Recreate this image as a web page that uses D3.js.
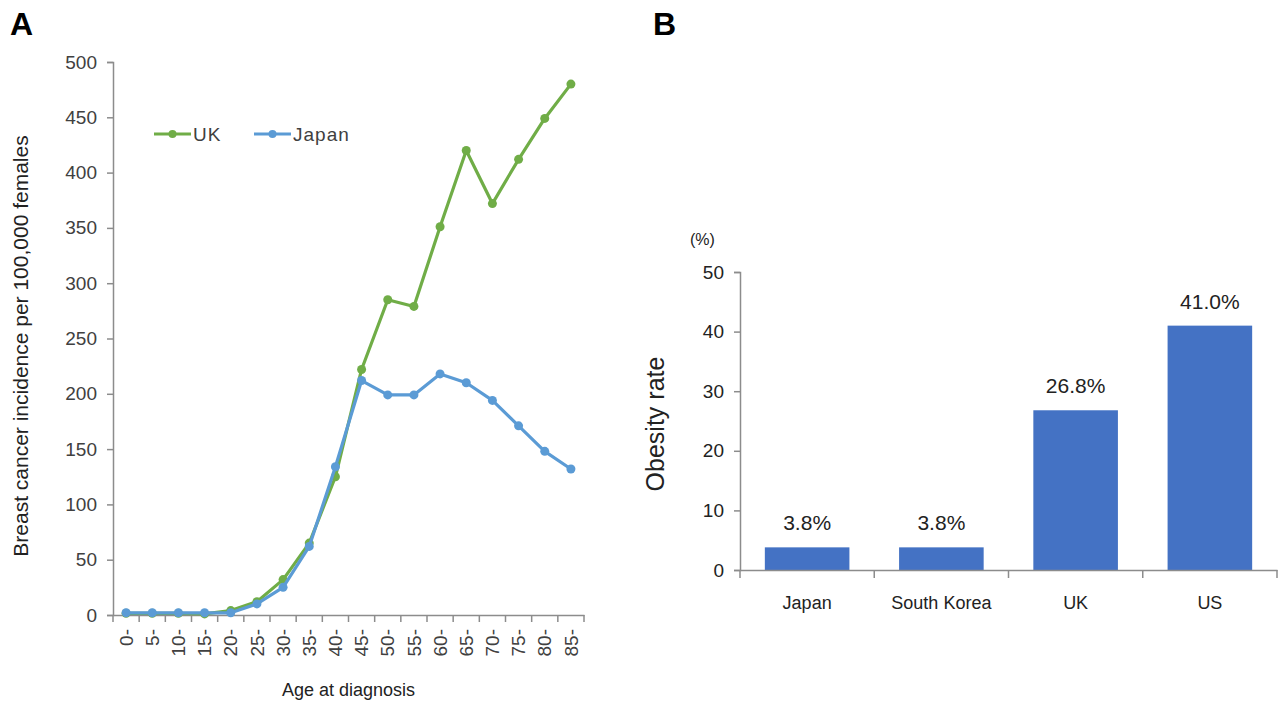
<!DOCTYPE html>
<html>
<head>
<meta charset="utf-8">
<style>
  body { margin: 0; background: #fff; }
  svg text { font-family: "Liberation Sans", Arial, sans-serif; }
</style>
</head>
<body>
<script src="https://d3js.org/d3.v7.min.js"></script>
<script>
  // Panel A: breast cancer incidence by age
  const ageGroups = ['0-', '5-', '10-', '15-', '20-', '25-', '30-', '35-', '40-', '45-',
                     '50-', '55-', '60-', '65-', '70-', '75-', '80-', '85-'];
  const ukIncidence = [1.5, 1.5, 1.5, 1, 4, 12, 32, 65, 125, 222, 285, 279, 351, 420, 372, 412, 449, 480];
  const japanIncidence = [2, 2, 2, 2, 2, 10, 25, 62, 134, 212, 199, 199, 218, 210, 194, 171, 148, 132];
  const incidenceTicks = [0, 50, 100, 150, 200, 250, 300, 350, 400, 450, 500];

  // Panel B: obesity rate
  const countries = ['Japan', 'South Korea', 'UK', 'US'];
  const obesityRate = [3.8, 3.8, 26.8, 41.0];
  const obesityTicks = [0, 10, 20, 30, 40, 50];

  const axisColor = '#8c8c8c';
  const labelColor = '#404040';

  const svg = d3.select('body').append('svg')
    .attr('width', 1285)
    .attr('height', 705);

  // ---------- Panel A ----------
  const a = { left: 113, right: 584, top: 62, bottom: 615 };
  const xA = d3.scaleBand().domain(ageGroups).range([a.left, a.right]);
  const yA = d3.scaleLinear().domain([0, 500]).range([a.bottom, a.top]);

  svg.append('text')
    .attr('x', 10).attr('y', 35)
    .attr('font-size', 32).attr('font-weight', 'bold')
    .text('A');

  const gyA = svg.append('g')
    .attr('transform', `translate(${a.left},0)`)
    .call(d3.axisLeft(yA).tickValues(incidenceTicks).tickSize(6).tickPadding(10));
  gyA.select('.domain').attr('stroke', axisColor).attr('stroke-width', 1.5);
  gyA.selectAll('.tick line').attr('stroke', axisColor).attr('stroke-width', 1.5);
  gyA.selectAll('.tick text').attr('font-size', 19).attr('fill', labelColor);

  const gxA = svg.append('g')
    .attr('transform', `translate(0,${a.bottom})`)
    .call(d3.axisBottom(xA).tickSize(0));
  gxA.select('.domain').attr('stroke', axisColor).attr('stroke-width', 1.5);
  gxA.selectAll('.tick text')
    .attr('font-size', 19).attr('fill', labelColor)
    .attr('transform', 'rotate(-90)')
    .attr('text-anchor', 'end')
    .attr('x', -14).attr('y', 0)
    .attr('dx', 0).attr('dy', '0.35em');
  // boundary tick marks
  svg.append('g')
    .selectAll('line')
    .data(ageGroups.concat(['end']))
    .join('line')
    .attr('x1', (d, i) => a.left + i * xA.step())
    .attr('x2', (d, i) => a.left + i * xA.step())
    .attr('y1', a.bottom).attr('y2', a.bottom + 7)
    .attr('stroke', axisColor).attr('stroke-width', 1.5);

  svg.append('text')
    .attr('x', (a.left + a.right) / 2).attr('y', 696)
    .attr('text-anchor', 'middle')
    .attr('font-size', 18).attr('fill', '#222')
    .text('Age at diagnosis');

  svg.append('text')
    .attr('transform', `translate(28,346) rotate(-90)`)
    .attr('text-anchor', 'middle')
    .attr('font-size', 21).attr('fill', '#222')
    .text('Breast cancer incidence per 100,000 females');

  const seriesA = [
    { name: 'UK', values: ukIncidence, color: '#70ad47' },
    { name: 'Japan', values: japanIncidence, color: '#5b9bd5' }
  ];
  const line = d3.line()
    .x((d, i) => xA(ageGroups[i]) + xA.bandwidth() / 2)
    .y(d => yA(d));

  seriesA.forEach(s => {
    const g = svg.append('g');
    g.append('path')
      .attr('d', line(s.values))
      .attr('fill', 'none')
      .attr('stroke', s.color)
      .attr('stroke-width', 3.2)
      .attr('stroke-linejoin', 'round');
    g.selectAll('circle')
      .data(s.values)
      .join('circle')
      .attr('cx', (d, i) => xA(ageGroups[i]) + xA.bandwidth() / 2)
      .attr('cy', d => yA(d))
      .attr('r', 4.5)
      .attr('fill', s.color);
  });

  // legend
  const legend = svg.append('g').attr('transform', 'translate(154,134)');
  [{ x: 0, s: seriesA[0] }, { x: 100, s: seriesA[1] }].forEach(l => {
    legend.append('line')
      .attr('x1', l.x).attr('x2', l.x + 37).attr('y1', 0).attr('y2', 0)
      .attr('stroke', l.s.color).attr('stroke-width', 3.2);
    legend.append('circle')
      .attr('cx', l.x + 18.5).attr('cy', 0).attr('r', 4)
      .attr('fill', l.s.color);
    legend.append('text')
      .attr('x', l.x + 39).attr('y', 6.5)
      .attr('font-size', 19).attr('fill', labelColor)
      .attr('letter-spacing', 1)
      .text(l.s.name);
  });

  // ---------- Panel B ----------
  const b = { left: 740, right: 1277, top: 272, bottom: 570 };
  const xB = d3.scaleBand().domain(countries).range([b.left, b.right])
    .paddingInner(0.37).paddingOuter(0.185);
  const xBTicks = d3.scaleBand().domain(countries).range([b.left, b.right]);
  const yB = d3.scaleLinear().domain([0, 50]).range([b.bottom, b.top]);

  svg.append('text')
    .attr('x', 653).attr('y', 35)
    .attr('font-size', 32).attr('font-weight', 'bold')
    .text('B');

  svg.append('text')
    .attr('x', 690).attr('y', 245)
    .attr('font-size', 16).attr('fill', '#222')
    .text('(%)');

  const gyB = svg.append('g')
    .attr('transform', `translate(${b.left},0)`)
    .call(d3.axisLeft(yB).tickValues(obesityTicks).tickSize(6).tickPadding(10));
  gyB.select('.domain').attr('stroke', axisColor).attr('stroke-width', 1.5);
  gyB.selectAll('.tick line').attr('stroke', axisColor).attr('stroke-width', 1.5);
  gyB.selectAll('.tick text').attr('font-size', 19).attr('fill', '#222');

  svg.append('g')
    .selectAll('rect')
    .data(obesityRate)
    .join('rect')
    .attr('x', (d, i) => xB(countries[i]))
    .attr('y', d => yB(d))
    .attr('width', xB.bandwidth())
    .attr('height', d => yB(0) - yB(d))
    .attr('fill', '#4472c4');

  const gxB = svg.append('g')
    .attr('transform', `translate(0,${b.bottom})`)
    .call(d3.axisBottom(xBTicks).tickSize(0).tickPadding(26));
  gxB.select('.domain').attr('stroke', axisColor).attr('stroke-width', 1.5);
  gxB.selectAll('.tick text').attr('font-size', 18).attr('fill', '#222');
  svg.append('g')
    .selectAll('line')
    .data(countries.concat(['end']))
    .join('line')
    .attr('x1', (d, i) => b.left + i * xBTicks.step())
    .attr('x2', (d, i) => b.left + i * xBTicks.step())
    .attr('y1', b.bottom).attr('y2', b.bottom + 8)
    .attr('stroke', axisColor).attr('stroke-width', 1.5);

  svg.append('g')
    .selectAll('text')
    .data(obesityRate)
    .join('text')
    .attr('x', (d, i) => xB(countries[i]) + xB.bandwidth() / 2)
    .attr('y', d => yB(d) - 17)
    .attr('text-anchor', 'middle')
    .attr('font-size', 21).attr('fill', '#222')
    .text(d => d.toFixed(1) + '%');

  svg.append('text')
    .attr('transform', `translate(664,${(b.top + b.bottom) / 2 + 3}) rotate(-90)`)
    .attr('text-anchor', 'middle')
    .attr('font-size', 25).attr('fill', '#222')
    .text('Obesity rate');
</script>
</body>
</html>
